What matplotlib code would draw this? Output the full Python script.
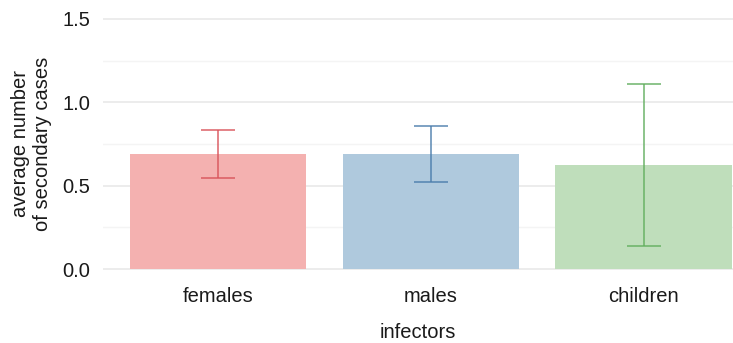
import matplotlib

matplotlib.use("Agg")
import matplotlib.pyplot as plt
import numpy as np

plt.rcParams["font.family"] = ["Liberation Sans", "DejaVu Sans"]

# data
infectors = ["females", "males", "children"]
mean_cases = [0.689, 0.689, 0.624]
ci_low = [0.544, 0.520, 0.140]
ci_high = [0.833, 0.857, 1.109]

bar_colors = ["#F4B1B0", "#AFC9DD", "#BFDEBB"]
err_colors = ["#D9545A", "#4C7EAC", "#62AE5F"]

x = np.arange(1, len(infectors) + 1)

fig = plt.figure(figsize=(7.33, 3.43), dpi=100)
ax = fig.add_axes([0.1405, 0.2108, 0.8595, 0.7388])

ax.set_ylim(-0.01, 1.51)
ax.set_xlim(0.459, 3.42)

# grid
for v in [0.25, 0.75, 1.25]:
    ax.axhline(v, color="#F4F4F4", lw=1.0, zorder=0)
for v in [0, 0.5, 1.0, 1.5]:
    ax.axhline(v, color="#EBEBEB", lw=1.3, zorder=0)

ax.bar(x, mean_cases, width=0.83, color=bar_colors, zorder=2)
for xi, m, lo, hi, c in zip(x, mean_cases, ci_low, ci_high, err_colors):
    ax.errorbar(xi, m, yerr=[[m - lo], [hi - m]], fmt="none", ecolor=c,
                elinewidth=1.2, capsize=12.5, capthick=1.2, alpha=0.85, zorder=3)

fs = 14.5
ax.set_yticks([0, 0.5, 1.0, 1.5])
ax.set_yticklabels(["0.0", "0.5", "1.0", "1.5"])
ax.set_xticks(x)
ax.set_xticklabels(infectors)
ax.tick_params(axis="both", length=0, labelsize=fs, colors="#1a1a1a")
ax.tick_params(axis="y", pad=9)
ax.tick_params(axis="x", pad=12)

for s in ax.spines.values():
    s.set_visible(False)

ax.set_xlabel("infectors", fontsize=fs, color="#1a1a1a", labelpad=12)
ax.set_ylabel("average number\nof secondary cases", fontsize=fs,
              color="#1a1a1a", labelpad=8, linespacing=1.15)

plt.savefig("out.png", dpi=100)
plt.close(fig)
